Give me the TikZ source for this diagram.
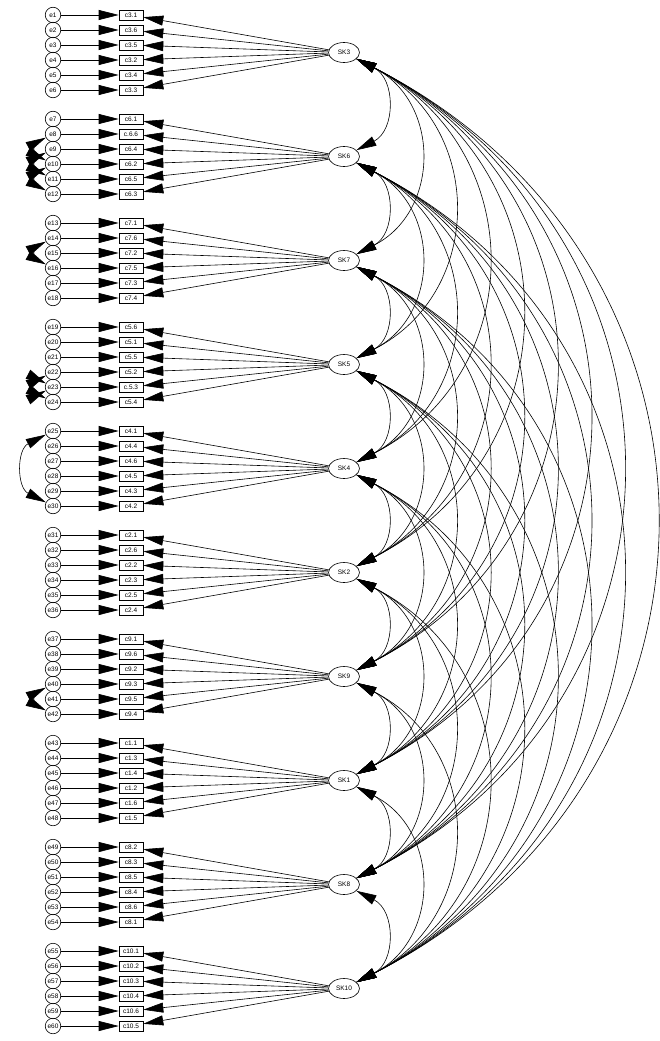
\documentclass[tikz,border=0pt]{standalone}
\usepackage{fontspec}
\setmainfont{Liberation Sans}
\usetikzlibrary{arrows.meta,shapes.geometric}
\tikzset{
  tinyfont/.style={font=\fontsize{6.5}{7}\selectfont},
  err/.style={shape=circle, draw=black, inner sep=0pt, minimum size=15.5pt, tinyfont},
  obs/.style={shape=rectangle, draw=black, inner sep=0pt, minimum width=24pt, minimum height=10pt, tinyfont},
  lat/.style={shape=ellipse, draw=black, inner sep=0pt, minimum width=31pt, minimum height=20pt, tinyfont},
  load/.style={-{Triangle[length=20pt,width=10pt]}},
  cov/.style={{Triangle[length=20pt,width=10pt]}-{Triangle[length=20pt,width=10pt]}, looseness=1.24},
}
\begin{document}
\begin{tikzpicture}[x=1pt, y=1pt, line width=0.6pt]
\useasboundingbox (0,0) rectangle (659,-1041);
% factors, items and error terms
\foreach \lat/\items [count=\k from 0] in {
  SK3/{c3.1,c3.6,c3.5,c3.2,c3.4,c3.3},
  SK6/{c6.1,c.6.6,c6.4,c6.2,c6.5,c6.3},
  SK7/{c7.1,c7.6,c7.2,c7.5,c7.3,c7.4},
  SK5/{c5.6,c5.1,c5.5,c5.2,c.5.3,c5.4},
  SK4/{c4.1,c4.4,c4.6,c4.5,c4.3,c4.2},
  SK2/{c2.1,c2.6,c2.2,c2.3,c2.5,c2.4},
  SK9/{c9.1,c9.6,c9.2,c9.3,c9.5,c9.4},
  SK1/{c1.1,c1.3,c1.4,c1.2,c1.6,c1.5},
  SK8/{c8.2,c8.3,c8.5,c8.4,c8.6,c8.1},
  SK10/{c10.1,c10.2,c10.3,c10.4,c10.6,c10.5}}{
  \node[lat] (\lat) at (344, -104*\k-52.5) {\lat};
  \foreach \item [count=\r] in \items {
    \pgfmathtruncatemacro\n{6*\k+\r}
    \node[err] (e\n) at (53, -104*\k-15*\r) {e\n};
    \node[obs] (c\n) at (131, -104*\k-15*\r) {\item};
    \draw[load] (e\n) -- (c\n);
    \draw[load] (\lat) -- (c\n);
  }
}
% error covariances
\draw[cov] (e8) to[out=-153, in=153] (e10);
\draw[cov] (e9) to[out=-153, in=153] (e11);
\draw[cov] (e10) to[out=-153, in=153] (e12);
\draw[cov] (e14) to[out=-153, in=153] (e16);
\draw[cov] (e22) to[out=-153, in=153] (e23);
\draw[cov] (e23) to[out=-153, in=153] (e24);
\draw[cov] (e25) to[out=-153, in=153] (e30);
\draw[cov] (e40) to[out=-153, in=153] (e42);
% factor covariances
\foreach \a [count=\i] in {SK3,SK6,SK7,SK5,SK4,SK2,SK9,SK1,SK8,SK10}
  \foreach \b [count=\j] in {SK3,SK6,SK7,SK5,SK4,SK2,SK9,SK1,SK8,SK10}{
    \ifnum\j>\i
      \draw[cov] (\a) to[out=-27, in=27] (\b);
    \fi
  }
\end{tikzpicture}
\end{document}
